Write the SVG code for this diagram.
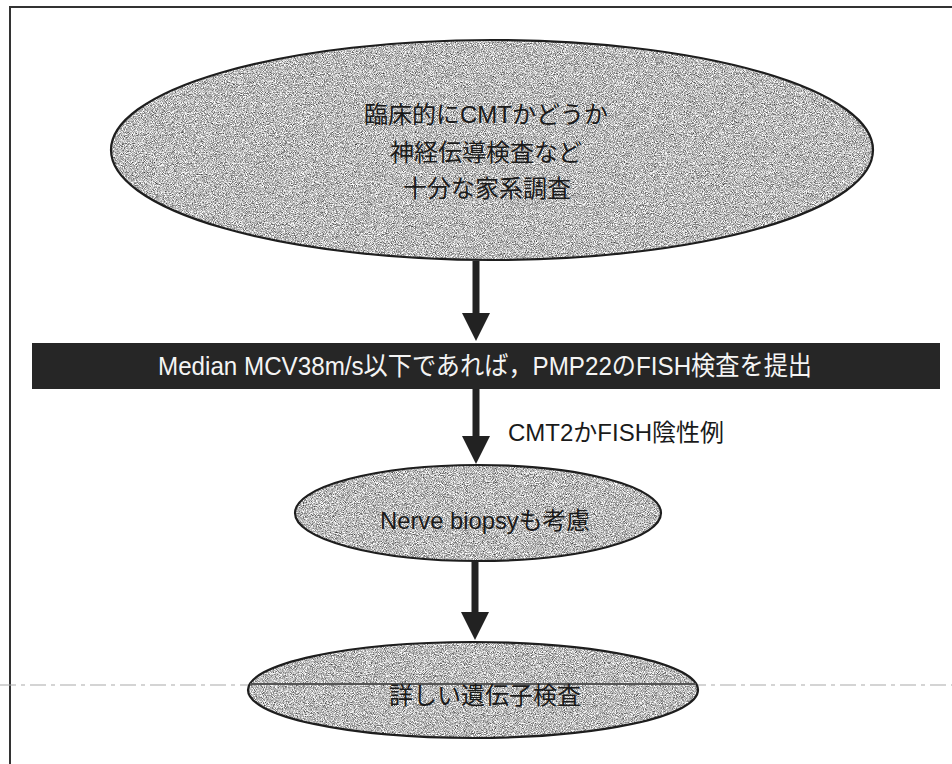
<svg xmlns="http://www.w3.org/2000/svg" width="952" height="764" viewBox="0 0 952 764">
  <style>
    .frame { stroke: #333; stroke-width: 2; fill: none; }
    .scan { stroke: #aaa; stroke-width: 1.2; stroke-dasharray: 16 5 4 5; fill: none; }
    .node-fill { fill: #bdbdbd; filter: url(#grain); }
    .node-edge { fill: none; stroke: #1e1e1e; stroke-width: 2.2; }
    .txt { font-family: "Liberation Sans", "Noto Sans CJK JP", sans-serif; font-size: 24px; fill: #1a1a1a; text-anchor: middle; }
    .bar { fill: #262626; }
    .bartxt { font-family: "Liberation Sans", "Noto Sans CJK JP", sans-serif; font-size: 26px; fill: #f4f4f4; text-anchor: middle; }
    .conn { stroke: #222; stroke-width: 7; fill: none; marker-end: url(#head); }
    .lbl { font-family: "Liberation Sans", "Noto Sans CJK JP", sans-serif; font-size: 24px; fill: #1a1a1a; }
  </style>
  <defs>
    <filter id="grain" x="0" y="0" width="100%" height="100%" color-interpolation-filters="sRGB">
      <feTurbulence type="fractalNoise" baseFrequency="1.1" numOctaves="2" seed="7" result="n"/>
      <feColorMatrix in="n" type="matrix" values="1.4 0 0 0 0.03  1.4 0 0 0 0.03  1.4 0 0 0 0.03  0 0 0 0 1" result="g"/>
      <feComposite in="g" in2="SourceGraphic" operator="in"/>
    </filter>
    <marker id="head" viewBox="0 0 28 28" refX="0" refY="14" markerWidth="28" markerHeight="28" markerUnits="userSpaceOnUse" orient="auto">
      <path d="M0,0 L28,14 L0,28 z" fill="#222"/>
    </marker>
  </defs>

  <rect width="952" height="764" fill="#ffffff"/>

  <!-- frame -->
  <path class="frame" d="M10,764 L10,7 L952,7"/>

  <!-- scan line -->
  <line class="scan" x1="0" y1="685" x2="952" y2="685"/>

  <g id="node-start">
    <ellipse class="node-fill" cx="492" cy="150" rx="381" ry="110"/>
    <ellipse class="node-edge" cx="492" cy="150" rx="381" ry="110"/>
    <text class="txt" x="486" y="123">臨床的にCMTかどうか</text>
    <text class="txt" x="486" y="161">神経伝導検査など</text>
    <text class="txt" x="487" y="197">十分な家系調査</text>
  </g>

  <g id="node-fish">
    <rect class="bar" x="32" y="343" width="908" height="46"/>
    <text class="bartxt" x="485" y="375" textLength="654" lengthAdjust="spacingAndGlyphs">Median MCV38m/s以下であれば，PMP22のFISH検査を提出</text>
  </g>

  <g id="node-biopsy">
    <ellipse class="node-fill" cx="478" cy="513" rx="183" ry="48"/>
    <ellipse class="node-edge" cx="478" cy="513" rx="183" ry="48"/>
    <text class="txt" x="485" y="529" textLength="210" lengthAdjust="spacingAndGlyphs">Nerve biopsyも考慮</text>
  </g>

  <g id="node-genetic">
    <ellipse class="node-fill" cx="473" cy="690" rx="225" ry="48"/>
    <ellipse class="node-edge" cx="473" cy="690" rx="225" ry="48"/>
    <line x1="250" y1="684" x2="696" y2="684" stroke="#555" stroke-width="2"/>
    <text class="txt" x="485" y="704">詳しい遺伝子検査</text>
  </g>

  <g id="connectors">
    <line class="conn" x1="476" y1="261" x2="476" y2="313"/>
    <line class="conn" x1="476" y1="389" x2="476" y2="436"/>
    <text class="lbl" x="508" y="441">CMT2かFISH陰性例</text>
    <line class="conn" x1="475" y1="561" x2="475" y2="612"/>
  </g>
</svg>
